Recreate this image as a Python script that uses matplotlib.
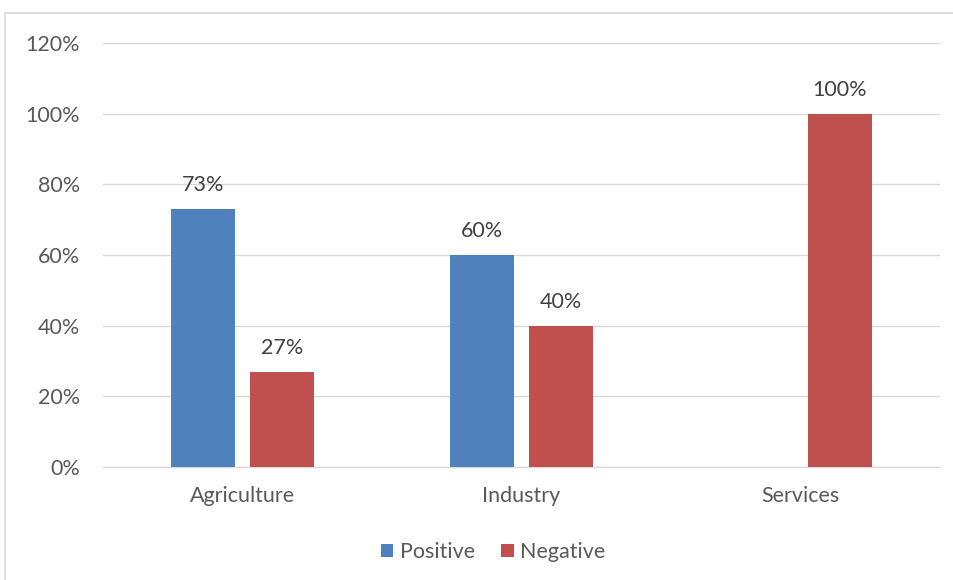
import matplotlib
matplotlib.use("Agg")
import matplotlib.pyplot as plt
from matplotlib.patches import Rectangle
import numpy as np

categories = ["Agriculture", "Industry", "Services"]
positive = [73, 60, None]
negative = [27, 40, 100]
yticks = [0, 20, 40, 60, 80, 100, 120]

plt.rcParams["font.family"] = ["Lato", "DejaVu Sans"]
FS = 15.5

fig = plt.figure(figsize=(9.54, 5.8), dpi=100)
ax = fig.add_axes([103 / 954, 113 / 580, 837 / 954, 424 / 580])

# outer chart frame
fig.patches.append(Rectangle((5 / 954, -0.05), 1.0, (567 / 580) + 0.05,
                             transform=fig.transFigure, fill=False,
                             edgecolor="#d9d9d9", linewidth=1.2))

x = np.arange(len(categories))
w = 0.226
off = 0.1416
blue = "#4F81BD"
red = "#C0504D"

pos_x = [xi - off for xi, v in zip(x, positive) if v is not None]
pos_v = [v for v in positive if v is not None]
b1 = ax.bar(pos_x, pos_v, width=w, color=blue, label="Positive", zorder=3)
b2 = ax.bar(x + off, negative, width=w, color=red, label="Negative", zorder=3)

for bars, vals in ((b1, pos_v), (b2, negative)):
    for r, v in zip(bars, vals):
        ax.text(r.get_x() + r.get_width() / 2, v + 3.9, f"{v}%",
                ha="center", va="bottom", fontsize=FS, color="#404040")

ax.set_xlim(-0.5, 2.5)
ax.set_ylim(0, 120)
ax.set_yticks(yticks)
ax.set_yticklabels([f"{t}%" for t in yticks])
ax.set_xticks(x)
ax.set_xticklabels(categories)
ax.tick_params(axis="both", length=0, labelsize=FS, labelcolor="#595959")
ax.tick_params(axis="y", pad=16.5)
ax.tick_params(axis="x", pad=14)
ax.grid(axis="y", color="#d9d9d9", linewidth=1.0, zorder=0)
for s in ["top", "right", "left"]:
    ax.spines[s].set_visible(False)
ax.spines["bottom"].set_color("#d9d9d9")
ax.spines["bottom"].set_linewidth(1.0)

leg = fig.legend(handles=[b1, b2], labels=["Positive", "Negative"],
                 loc="center", bbox_to_anchor=(493 / 954, 28 / 580), ncol=2,
                 frameon=False, fontsize=FS, handlelength=0.6, handleheight=0.6,
                 handletextpad=0.3, columnspacing=1.2)
for t in leg.get_texts():
    t.set_color("#595959")

fig.savefig("out.png", dpi=100)
